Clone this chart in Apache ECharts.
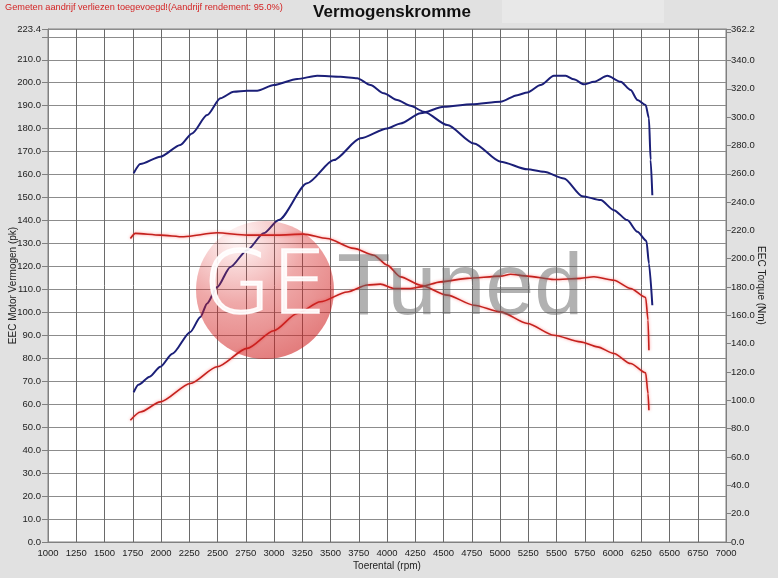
<!DOCTYPE html>
<html><head><meta charset="utf-8">
<script src="https://cdn.jsdelivr.net/npm/echarts@6/dist/echarts.min.js"></script>
<style>html,body{margin:0;padding:0;background:#e1e1e1;}#c{width:778px;height:578px;}</style>
</head><body><div id="c"></div>
<script>
// Tuned (blue) power, pk
const bluePowerRpm = [1758,1800,1900,1994,2100,2260,2349,2408,2497,2614,2762,2909,3042,3293,3529,3765,4002,4120,4297,4503,4750,5005,5153,5242,5359,5477,5581,5654,5743,5831,5950,6068,6156,6216,6289,6318,6333,6348];
const bluePowerPk  = [65.2,68.5,72,76.3,82,91.5,98,103.9,111,119.8,127.1,134.4,140.2,156.2,166.3,175.8,180.1,182.3,186.7,189.5,190.6,191.7,194.6,195.8,199,203,203,201.5,199.3,200.4,203,200.4,196.8,192.5,190.3,184.5,166.4,151];
// Tuned (blue) torque, Nm
const blueTorqueRpm = [1758,1817,1994,2171,2275,2408,2526,2643,2762,2851,2998,3205,3382,3588,3736,3854,3972,4090,4208,4326,4533,4769,5005,5242,5389,5566,5729,5891,6008,6126,6216,6296,6318,6348];
const blueTorqueNm  = [260.3,266.8,272,280.3,288.5,301.4,313.3,317.9,318.6,318.6,322.6,326.9,329.2,328.5,327.4,322.6,316.8,312,308,303.8,294.4,281.4,268.5,263.1,261.4,256.7,244.2,241.4,234.3,227.3,219,212.6,196.7,167.2];
// Stock (red) torque, Nm
const redTorqueRpm = [1729,1773,1994,2201,2497,2762,3028,3263,3470,3706,3883,4002,4120,4297,4533,4769,5005,5242,5477,5713,5861,6008,6156,6289,6310,6318];
const redTorqueNm  = [214.3,217.9,216.7,215.5,218.3,216.7,216.7,217.4,214.3,207.3,202.5,195.5,187.2,181.3,174.3,167.2,162.5,154.3,146,141.3,137.8,133.1,126,119.4,104.8,93];
// Stock (red) power, pk
const redPowerRpm = [1729,1817,1994,2260,2497,2762,2998,3205,3411,3647,3825,3943,4061,4208,4297,4474,4710,5005,5094,5242,5477,5713,5831,6008,6156,6289,6310,6318];
const redPowerPk  = [53,56.6,61,69,76.3,84.3,92,99.5,104.6,108.9,111.9,112.3,110.4,110.4,111.1,113.3,114.8,115.8,116.6,115.8,114.3,114.8,115.5,114,110.4,106.5,96.6,83.5];

const xMin = 1000, xMax = 7000, xStep = 250;
const leftMax = 223.4, leftStep = 10;
const rightMax = 362.2, rightStep = 20;

const zip = (a, b) => a.map((v, i) => [v, b[i]]);
const FONT = '"Liberation Sans", Arial, sans-serif';
const chart = echarts.init(document.getElementById('c'));

const blue = '#1b1f78', red = '#c4211d';
function line(name, data, color, yIdx, glow) {
  return {
    name, type: 'line', data, yAxisIndex: yIdx, showSymbol: false, smooth: 0.25,
    smoothMonotone: 'x', animation: false,
    lineStyle: { color, width: glow ? 1.6 : 2, shadowBlur: glow ? 3 : 0, shadowColor: 'rgba(255,90,90,0.7)' }
  };
}

chart.setOption({
  backgroundColor: '#e1e1e1',
  animation: false,
  grid: { left: 48, right: 52, top: 29, bottom: 36, containLabel: false, outerBoundsMode: 'none',
    show: true, backgroundColor: '#ffffff', borderColor: '#808080', borderWidth: 1 },
  xAxis: {
    type: 'value', min: xMin, max: xMax, interval: xStep,
    name: 'Toerental (rpm)', nameLocation: 'middle', nameGap: 19, nameMoveOverlap: false,
    nameTextStyle: { fontFamily: FONT, fontSize: 10, color: '#222' },
    axisLine: { show: true, lineStyle: { color: '#808080' } },
    axisTick: { show: false },
    axisLabel: { fontFamily: FONT, fontSize: 9.5, color: '#222', margin: 6, formatter: v => String(v) },
    splitLine: { show: true, lineStyle: { color: '#6a6a6a', width: 1 } }
  },
  yAxis: [{
    type: 'value', min: 0, max: leftMax, interval: leftStep,
    name: 'EEC Motor Vermogen (pk)', nameLocation: 'middle', nameGap: 30, nameMoveOverlap: false,
    nameTextStyle: { fontFamily: FONT, fontSize: 10, color: '#222' },
    axisLine: { show: true, lineStyle: { color: '#808080' } },
    axisTick: { show: true, length: 6, lineStyle: { color: '#808080' } },
    axisLabel: { fontFamily: FONT, fontSize: 9.5, color: '#222', margin: 7,
      formatter: v => Math.abs(v - 220) < 1e-6 ? '' : v.toFixed(1) },
    splitLine: { show: true, lineStyle: { color: '#8c8c8c', width: 1 } }
  }, {
    type: 'value', min: 0, max: rightMax, interval: rightStep, position: 'right',
    name: 'EEC Torque (Nm)', nameLocation: 'middle', nameGap: 30, nameRotate: -90, nameMoveOverlap: false,
    nameTextStyle: { fontFamily: FONT, fontSize: 10, color: '#222' },
    axisLine: { show: true, lineStyle: { color: '#808080' } },
    axisTick: { show: true, length: 5, lineStyle: { color: '#808080' } },
    axisLabel: { fontFamily: FONT, fontSize: 9.5, color: '#222', margin: 5,
      formatter: v => Math.abs(v - 360) < 1e-6 ? '' : v.toFixed(1) },
    splitLine: { show: false }
  }],
  series: [
    line('Vermogen getuned', zip(bluePowerRpm, bluePowerPk), blue, 0, false),
    line('Koppel getuned', zip(blueTorqueRpm, blueTorqueNm), blue, 1, false),
    line('Koppel standaard', zip(redTorqueRpm, redTorqueNm), red, 1, true),
    line('Vermogen standaard', zip(redPowerRpm, redPowerPk), red, 0, true)
  ],
  graphic: [
    { type: 'rect', shape: { x: 502, y: 0, width: 162, height: 23 }, style: { fill: '#e8e8e8' }, z: -1 },
    { type: 'text', x: 5, y: 3, style: { text: 'Gemeten aandrijf verliezen toegevoegd!(Aandrijf rendement: 95.0%)', fill: '#d42424', font: '9.2px ' + FONT } },
    { type: 'text', x: 392, y: 4, style: { text: 'Vermogenskromme', fill: '#111', font: 'bold 17px ' + FONT, textAlign: 'center' } },
    // watermark
    { type: 'circle', z: 100, shape: { cx: 265, cy: 290, r: 69 },
      style: { fill: { type: 'radial', x: 0.3, y: 0.12, r: 0.95, colorStops: [
        { offset: 0, color: 'rgba(230,60,60,0.04)' }, { offset: 0.5, color: 'rgba(215,40,40,0.4)' }, { offset: 1, color: 'rgba(205,25,25,0.58)' } ] } } },
    { type: 'text', z: 101, x: 203, y: 290, style: { text: 'GE', fill: 'rgba(255,255,255,0.9)', stroke: 'rgba(255,255,255,0.9)', lineWidth: 1.5, font: '200 88px "DejaVu Sans", sans-serif', verticalAlign: 'middle' } },
    { type: 'text', z: 101, x: 337, y: 290, style: { text: 'Tuned', fill: 'rgba(100,100,100,0.5)', font: '88px ' + FONT, verticalAlign: 'middle' } }
  ]
});
</script></body></html>
